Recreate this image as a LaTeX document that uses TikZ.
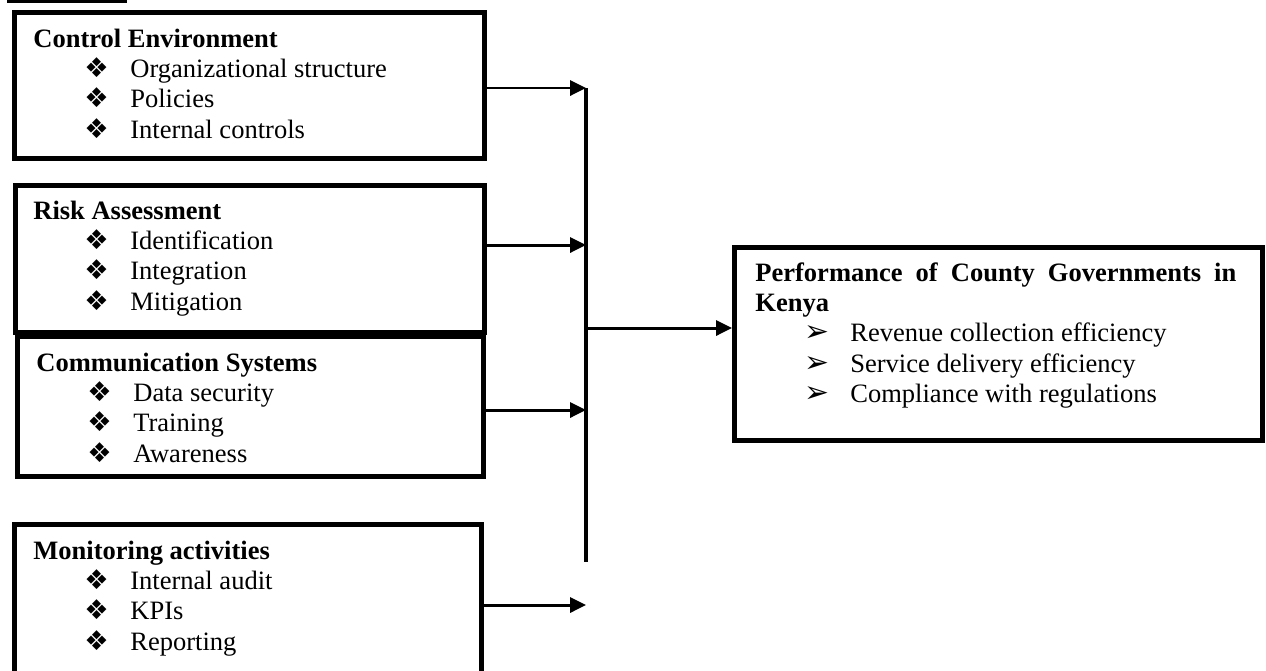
\documentclass[tikz,border=0pt]{standalone}
\usepackage{fontspec}
\setmainfont{Liberation Serif}
\newfontfamily\dingfont{DejaVu Sans}
\usetikzlibrary{arrows.meta}

% one pixel of the layout
\newlength\pu
\setlength\pu{0.02cm}
\newcommand{\bul}{{\dingfont\fontsize{15.5}{12}\selectfont ❖}}
\newcommand{\tip}{{\dingfont\fontsize{17}{12}\selectfont ➢}}
\newcommand{\itm}[1]{\hspace*{51\pu}\makebox[46\pu][l]{\bul}#1}
\newcommand{\res}[1]{\hspace*{49\pu}\makebox[46\pu][l]{\tip}#1}

\begin{document}
\begin{tikzpicture}[x=0.02cm, y=-0.02cm,
  every node/.style={inner sep=0pt, font=\fontsize{15.1}{17.24}\selectfont},
  factor/.style={draw, line width=2.85pt, anchor=north west},
  lines/.style={anchor=north west, align=left},
  feed/.style={line width=1.7pt, -{Triangle[length=9pt,width=8.5pt]}}]
\useasboundingbox (0,0) rectangle (1266,670);

\fill (7,-5) rectangle (127,2.5);

% independent variables
\node[factor, minimum width=469.5\pu, minimum height=146.5\pu] (ce) at (12,9.5) {};
\node[lines] (ce-t) at (33,25.8) {\strut\textbf{Control Environment}\\
  \itm{Organizational structure}\\ \itm{Policies}\\ \itm{Internal controls}};

\node[factor, minimum width=469.5\pu, minimum height=147.5\pu] (ra) at (12.5,182.5) {};
\node[lines] (ra-t) at (33,197.8) {\strut\textbf{Risk Assessment}\\
  \itm{Identification}\\ \itm{Integration}\\ \itm{Mitigation}};

\node[factor, minimum width=466\pu, minimum height=140\pu] (cs) at (14.5,334) {};
\node[lines] (cs-t) at (36,349.8) {\strut\textbf{Communication Systems}\\
  \itm{Data security}\\ \itm{Training}\\ \itm{Awareness}};

\node[factor, minimum width=467\pu, minimum height=153\pu] (ma) at (12,522) {};
\node[lines] (ma-t) at (33,537.8) {\strut\textbf{Monitoring activities}\\
  \itm{Internal audit}\\ \itm{KPIs}\\ \itm{Reporting}};

% dependent variable
\node[factor, minimum width=527.5\pu, minimum height=192.5\pu] (perf) at (732,245) {};
\node[lines] (perf-t) at (755,259.8) {\strut\makebox[481\pu][s]{\bfseries Performance of County Governments in}\\
  \textbf{Kenya}\\ \res{Revenue collection efficiency}\\
  \res{Service delivery efficiency}\\ \res{Compliance with regulations}};

% bus
\coordinate (b1) at (586,88);
\coordinate (b2) at (586,245);
\coordinate (b3) at (586,410);
\coordinate (b4) at (586,605);
\coordinate (bm) at (586,328);
\coordinate (bend) at (586,562);
\draw[line width=2pt] (b1) -- (bend);

\draw[feed] (ce.east |- b1) -- (b1);
\draw[feed] (ra.east |- b2) -- (b2);
\draw[feed] (cs.east |- b3) -- (b3);
\draw[feed] (ma.east |- b4) -- (b4);
\draw[feed] (bm) -- (perf.west |- bm);
\end{tikzpicture}
\end{document}
